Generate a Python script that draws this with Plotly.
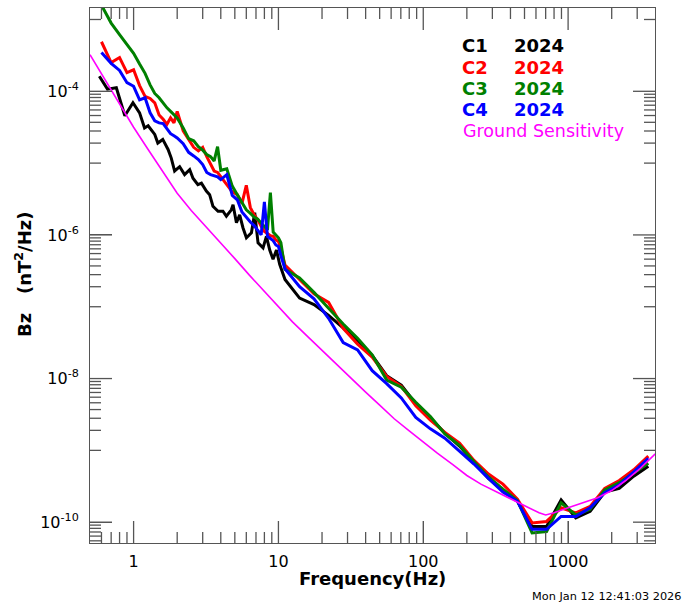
import plotly.graph_objects as go

# ---------------------------------------------------------------------------
# Bz power spectral density, nT^2/Hz, stored as log10 values
# ---------------------------------------------------------------------------

# Low-frequency band (Hz) for C2 / C3 / C4
freq_low = [0.6, 0.7, 0.8, 0.9, 1.0, 1.1, 1.2, 1.3, 1.4, 1.5, 1.6, 1.7, 1.8, 1.9,
            2.0, 2.2, 2.4, 2.6, 2.8, 3.0, 3.2, 3.4, 3.6, 3.8, 4.0, 4.4, 4.8, 5.2,
            5.6, 6.0, 6.4, 6.8, 7.2, 7.6, 8.0, 8.4, 8.8, 9.2, 9.6, 10.0, 10.4]

c2_low = [-3.31, -3.60, -3.53, -3.74, -3.70, -3.92, -4.07, -4.10, -4.16, -4.33,
          -4.39, -4.46, -4.37, -4.44, -4.28, -4.55, -4.67, -4.78, -4.83, -4.78,
          -4.91, -5.02, -5.11, -5.13, -5.19, -5.30, -5.40, -5.44, -5.56, -5.31,
          -5.62, -5.72, -5.79, -5.88, -5.95, -5.98, -6.01, -6.02, -6.07, -6.09,
          -6.18]

c3_low = [-2.80, -3.05, -3.21, -3.34, -3.47, -3.62, -3.75, -3.91, -4.03, -4.09,
          -4.17, -4.23, -4.28, -4.33, -4.37, -4.51, -4.66, -4.69, -4.77, -4.82,
          -4.88, -4.91, -4.97, -4.77, -5.10, -5.08, -5.32, -5.44, -5.55, -5.65,
          -5.70, -5.75, -5.78, -5.83, -5.88, -5.93, -5.41, -5.96, -6.00, -6.04,
          -6.11]

c4_low = [-3.46, -3.61, -3.71, -3.88, -3.93, -4.12, -4.09, -4.30, -4.41, -4.44,
          -4.45, -4.52, -4.59, -4.62, -4.65, -4.73, -4.85, -4.90, -4.95, -5.02,
          -5.13, -5.16, -5.17, -5.19, -5.23, -5.16, -5.45, -5.51, -5.68, -5.76,
          -5.82, -5.87, -5.94, -6.00, -5.54, -6.02, -6.05, -6.08, -6.14, -6.16,
          -6.29]

# C1 low-frequency band has its own sampling
c1_freq_low = [0.58, 0.66, 0.76, 0.87, 0.99, 1.10, 1.19, 1.26, 1.40, 1.47, 1.59,
               1.73, 1.82, 1.92, 2.08, 2.25, 2.44, 2.57, 2.78, 2.94, 3.18, 3.35,
               3.53, 3.83, 4.14, 4.37, 4.73, 4.86, 5.13, 5.40, 5.69, 6.01, 6.51,
               6.86, 7.23, 7.83, 8.26, 8.71, 9.18, 9.69, 10.2]
c1_low = [-3.79, -3.97, -3.95, -4.34, -4.16, -4.30, -4.51, -4.48, -4.60, -4.72,
          -4.67, -4.81, -4.93, -5.11, -5.05, -5.16, -5.09, -5.21, -5.30, -5.28,
          -5.39, -5.44, -5.60, -5.67, -5.67, -5.74, -5.65, -5.58, -5.83, -5.72,
          -5.90, -6.04, -5.97, -5.69, -6.11, -6.18, -6.02, -6.21, -6.34, -6.21,
          -6.41]

# Third-octave band above 10 Hz (shared by all four spacecraft)
freq_high = [11.1, 14.0, 17.6, 22.2, 28.0, 35.2, 44.4, 55.9, 70.5, 88.8, 112, 141,
             178, 224, 282, 355, 447, 564, 710, 895, 1130, 1420, 1790, 2255, 2840,
             3580]

c1_high = [-6.62, -6.88, -6.97, -7.12, -7.29, -7.47, -7.68, -7.96, -8.09, -8.35,
           -8.55, -8.76, -8.94, -9.17, -9.39, -9.56, -9.71, -10.06, -10.06, -9.69,
           -9.94, -9.85, -9.58, -9.53, -9.36, -9.22]
c2_high = [-6.42, -6.62, -6.82, -6.94, -7.30, -7.52, -7.70, -7.97, -8.11, -8.38,
           -8.58, -8.75, -8.90, -9.14, -9.33, -9.47, -9.68, -10.01, -9.99, -9.80,
           -9.87, -9.78, -9.53, -9.42, -9.27, -9.08]
c3_high = [-6.48, -6.60, -6.80, -7.02, -7.24, -7.44, -7.67, -8.02, -8.12, -8.33,
           -8.53, -8.77, -8.93, -9.16, -9.37, -9.54, -9.70, -10.15, -10.13, -9.73,
           -9.90, -9.82, -9.55, -9.45, -9.31, -9.18]
c4_high = [-6.47, -6.72, -6.89, -7.16, -7.50, -7.60, -7.89, -8.07, -8.27, -8.54,
           -8.70, -8.83, -9.01, -9.19, -9.39, -9.58, -9.71, -10.10, -10.10, -9.92,
           -9.92, -9.80, -9.59, -9.48, -9.30, -9.11]

# Ground sensitivity reference curve
freq_ground = [0.5, 0.6, 0.7, 0.8, 1.0, 1.25, 1.6, 2.0, 2.5, 3.15, 4.0, 5.0, 6.3,
               8.0, 10, 12.5, 16, 20, 25, 31.5, 40, 50, 63, 80, 100, 125, 160,
               200, 250, 315, 400, 500, 630, 700, 800, 1000, 1250, 1600, 2000,
               2500, 3150, 4000]
ground_log = [-3.49, -3.76, -3.99, -4.18, -4.50, -4.80, -5.12, -5.42, -5.66, -5.88,
              -6.11, -6.33, -6.56, -6.79, -7.01, -7.21, -7.42, -7.61, -7.80, -7.99,
              -8.19, -8.37, -8.56, -8.73, -8.89, -9.04, -9.20, -9.35, -9.47, -9.57,
              -9.67, -9.77, -9.87, -9.90, -9.87, -9.80, -9.73, -9.66, -9.56, -9.42,
              -9.25, -9.05]

legend_names = ["C1", "C2", "C3", "C4"]
legend_year = "2024"
colors = ["#000000", "#ff0000", "#008000", "#0000ff"]
ground_color = "#ff00ff"

x_tick_vals = [1, 10, 100, 1000]
x_tick_text = ["1", "10", "100", "1000"]
y_tick_exp = [-10, -8, -6, -4]

X_RANGE = [-0.301, 3.6]     # log10(Hz)
Y_RANGE = [-10.29, -2.84]   # log10(nT^2/Hz)

W, H = 689, 604
L, R, T, B = 90, 34, 8, 61
PLOT_W, PLOT_H = W - L - R, H - T - B


def to_psd(log_vals):
    return [10.0 ** v for v in log_vals]


series = [
    (c1_freq_low + freq_high, c1_low + c1_high),
    (freq_low + freq_high, c2_low + c2_high),
    (freq_low + freq_high, c3_low + c3_high),
    (freq_low + freq_high, c4_low + c4_high),
]

FONT = "DejaVu Sans"
AXIS_GREY = "#555555"

fig = go.Figure()

for (f, lv), name, col in zip(series, legend_names, colors):
    fig.add_trace(go.Scatter(x=f, y=to_psd(lv), mode="lines", name=name,
                             line=dict(color=col, width=3), showlegend=False))
fig.add_trace(go.Scatter(x=freq_ground, y=to_psd(ground_log), mode="lines",
                         name="Ground Sensitivity",
                         line=dict(color=ground_color, width=1.6),
                         showlegend=False))

# ---------------------------------------------------------------------------
# inward tick marks on all four sides (major 22 px, minor 11 px)
# ---------------------------------------------------------------------------
x_minor = [0.6, 0.7, 0.8, 0.9]
for dec in (1, 10, 100, 1000):
    x_minor += [k * dec for k in range(2, 10) if k * dec < 3990]
y_minor = []
for e in (-11, -9, -7, -5, -3):
    for k in range(10):
        v = (1.0 + 0.9 * k) * 10.0 ** e
        if 5.2e-11 < v < 1.4e-3:
            y_minor.append(v)
y_major = [10.0 ** e for e in y_tick_exp]

x_per_px = (X_RANGE[1] - X_RANGE[0]) / PLOT_W
y_per_px = (Y_RANGE[1] - Y_RANGE[0]) / PLOT_H


def add_tick(xs, ys):
    fig.add_trace(go.Scatter(x=xs, y=ys, mode="lines", hoverinfo="skip",
                             line=dict(color=AXIS_GREY, width=1.3),
                             showlegend=False, cliponaxis=False))


for vals, ln in ((x_tick_vals, 22), (x_minor, 11)):
    for v in vals:
        for base, sgn in ((Y_RANGE[0], 1), (Y_RANGE[1], -1)):
            add_tick([v, v], [10 ** base, 10 ** (base + sgn * ln * y_per_px)])
for vals, ln in ((y_major, 22), (y_minor, 11)):
    for v in vals:
        for base, sgn in ((X_RANGE[0], 1), (X_RANGE[1], -1)):
            add_tick([10 ** base, 10 ** (base + sgn * ln * x_per_px)], [v, v])

common = dict(type="log", showgrid=False, zeroline=False, showline=True,
              linecolor=AXIS_GREY, linewidth=1, mirror=True)

fig.update_layout(
    xaxis=dict(common, range=X_RANGE, ticks="inside", ticklen=22,
               tickcolor=AXIS_GREY, tickwidth=1.3,
               tickmode="array", tickvals=x_tick_vals, ticktext=x_tick_text,
               tickfont=dict(family=FONT, size=16, color="black"),
               ticklabelstandoff=4),
    yaxis=dict(common, range=Y_RANGE, ticks="inside", ticklen=22,
               tickcolor=AXIS_GREY, tickwidth=1.3,
               tickmode="array", tickvals=y_major,
               ticktext=["10<sup>%d</sup>" % e for e in y_tick_exp],
               tickfont=dict(family=FONT, size=16, color="black"),
               ticklabelstandoff=7),
)

annotations = [
    dict(text="<b>Frequency(Hz)</b>", x=372.5, y=578,
         font=dict(family=FONT, size=18, color="black")),
    dict(text="<b>Bz   (nT<sup>2</sup>/Hz)</b>", x=23, y=275, textangle=-90,
         font=dict(family=FONT, size=18, color="black")),
    dict(text="Mon Jan 12 12:41:03 2026", x=683, y=596, xanchor="right",
         font=dict(family=FONT, size=11.3, color="black")),
]

# legend block
rows_y = [46, 67, 88, 109]
for name, col, yy in zip(legend_names, colors, rows_y):
    annotations.append(dict(text="<b>%s</b>" % name, x=460, y=yy, xanchor="left",
                            font=dict(family=FONT, size=18, color=col)))
    annotations.append(dict(text="<b>%s</b>" % legend_year, x=512, y=yy,
                            xanchor="left",
                            font=dict(family=FONT, size=18, color=col)))
annotations.append(dict(text="Ground Sensitivity", x=461, y=131, xanchor="left",
                        font=dict(family=FONT, size=17.5, color=ground_color)))

# pixel placement -> plot-area paper coordinates
for a in annotations:
    a["x"] = (a["x"] - L) / PLOT_W
    a["y"] = 1 - (a["y"] - T) / PLOT_H
    a["xref"] = "paper"
    a["yref"] = "paper"
    a["yanchor"] = "middle"
    a.setdefault("xanchor", "center")
    a["showarrow"] = False

fig.update_layout(
    width=W, height=H,
    margin=dict(l=L, r=R, t=T, b=B, pad=0),
    paper_bgcolor="white", plot_bgcolor="white",
    font=dict(family=FONT, color="black"),
    annotations=annotations,
    showlegend=False,
)

fig.write_html("out.html")
